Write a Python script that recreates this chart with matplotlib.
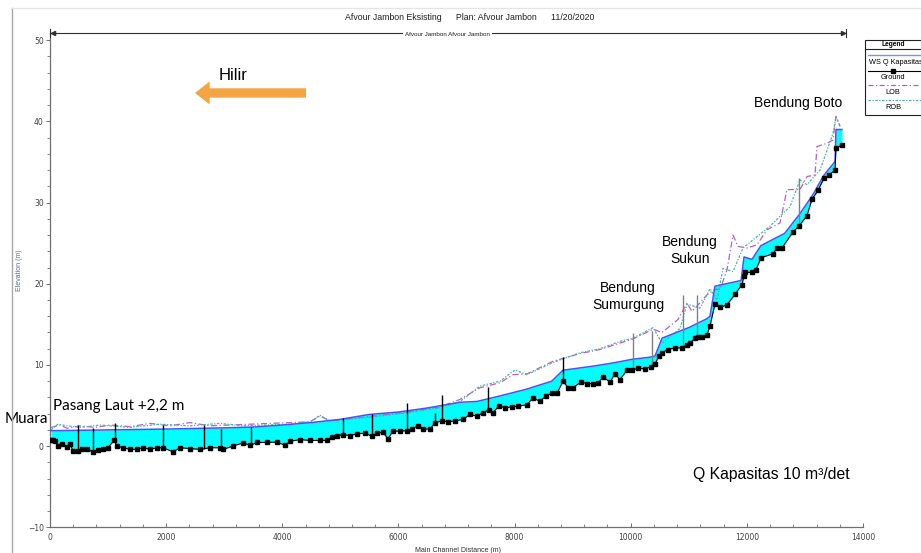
import numpy as np
import matplotlib
matplotlib.use("Agg")
import matplotlib.pyplot as plt
from matplotlib.ticker import MultipleLocator
from matplotlib.patches import Rectangle

# ---------------- data (distance in m, elevation in m) ----------------
ground_dist = [17, 52, 86, 138, 207, 293, 344, 396, 482, 551, 637, 740, 827, 913, 999, 1102, 1154,
               1257, 1378, 1498, 1601, 1722, 1843, 1946, 2118, 2239, 2411, 2583, 2755, 2927, 2979,
               3151, 3323, 3444, 3565, 3737, 3909, 4047, 4133, 4305, 4477, 4649, 4770, 4856, 4942,
               5045, 5166, 5287, 5424, 5545, 5631, 5734, 5820, 5906, 6027, 6148, 6234, 6337, 6423,
               6544, 6630, 6750, 6854, 6974, 7112, 7232, 7353, 7456, 7560, 7629, 7732, 7835, 7956,
               8059, 8214, 8317, 8438, 8541, 8644, 8731, 8834, 8920, 9006, 9144, 9247, 9350, 9436,
               9523, 9643, 9729, 9815, 9936, 10022, 10125, 10246, 10349, 10418, 10487, 10539, 10642,
               10762, 10883, 10969, 11021, 11107, 11159, 11227, 11314, 11365, 11451, 11537, 11658,
               11796, 11916, 11951, 11968, 12088, 12157, 12243, 12450, 12519, 12605, 12795, 12898,
               13035, 13122, 13225, 13328, 13414, 13518, 13535, 13638]
ground_elev = [0.7, 0.8, 0.6, 0.0, 0.2, -0.1, 0.3, -0.6, -0.6, -0.4, -0.4, -0.7, -0.5, -0.3, -0.2,
               0.7, 0.0, -0.2, -0.4, -0.4, -0.2, -0.4, -0.2, -0.2, -0.7, -0.2, -0.3, -0.4, -0.2,
               -0.2, -0.4, 0.0, 0.4, 0.1, 0.45, 0.45, 0.5, 0.1, 0.6, 0.8, 0.7, 0.7, 0.7, 1.1, 1.3,
               1.4, 1.3, 1.5, 1.6, 1.2, 1.6, 1.7, 0.9, 1.85, 1.85, 1.9, 2.1, 2.5, 2.1, 2.1, 2.9,
               3.1, 3.0, 3.1, 3.3, 3.9, 3.7, 4.1, 4.5, 4.1, 5.0, 4.7, 4.85, 4.9, 5.1, 5.95, 5.5,
               6.2, 6.5, 6.5, 8.0, 7.2, 7.2, 7.9, 7.7, 7.7, 7.75, 8.5, 7.9, 8.9, 8.2, 9.35, 9.35,
               9.6, 9.5, 9.8, 10.1, 11.1, 11.5, 11.9, 12.1, 12.1, 12.5, 12.7, 13.3, 13.5, 13.5,
               13.7, 14.8, 17.5, 17.1, 17.4, 18.7, 19.9, 21.0, 21.4, 21.4, 21.7, 23.2, 23.7, 24.4,
               24.4, 26.4, 27.1, 28.4, 30.4, 31.5, 33.0, 33.4, 34.0, 36.7, 37.1]

ws_dist = [17, 1000, 2000, 3000, 3500, 4000, 4500, 5000, 5500, 6000, 6500, 7060, 7350, 7730, 8200,
           8640, 8834, 9350, 9700, 10030, 10330, 10418, 10540, 11000, 11314, 11365, 11451, 11900,
           11951, 12088, 12243, 12650, 12900, 13122, 13330, 13518, 13535, 13638]
ws_elev = [1.9, 2.0, 2.1, 2.25, 2.35, 2.6, 2.9, 3.3, 3.9, 4.2, 4.7, 5.4, 5.5, 6.15, 7.0, 8.0, 9.35,
           9.85, 10.25, 10.7, 10.95, 11.1, 13.3, 14.6, 15.7, 16.0, 19.7, 20.4, 23.3, 23.0, 24.7,
           26.2, 28.5, 30.8, 33.4, 35.05, 39.0, 39.0]

lob_dist = [17, 172, 293, 517, 775, 1033, 1378, 1722, 2066, 2411, 2755, 3272, 3788, 4133, 4477,
            4649, 4822, 5562, 6148, 6716, 7060, 7405, 7749, 7973, 8214, 8662, 9127, 9471, 9815,
            10039, 10384, 10539, 10814, 10969, 11055, 11193, 11314, 11451, 11537, 11658, 11761,
            11847, 12002, 12175, 12347, 12571, 12691, 12915, 13035, 13173, 13207, 13379, 13483,
            13535, 13604]
lob_elev = [2.3, 2.6, 2.2, 2.5, 2.3, 2.6, 2.4, 2.8, 2.5, 2.9, 2.5, 2.65, 2.8, 2.9, 3.0, 3.7, 3.1,
            3.7, 4.2, 4.85, 5.75, 7.2, 7.8, 8.8, 8.9, 10.45, 11.4, 11.9, 12.7, 13.2, 14.4, 14.0,
            15.6, 17.6, 16.6, 17.65, 18.65, 19.3, 19.3, 21.7, 26.0, 24.6, 24.4, 24.8, 26.65, 27.5,
            31.6, 31.6, 33.2, 33.4, 36.9, 37.3, 37.7, 40.6, 39.4]

rob_dist = [17, 138, 293, 517, 861, 1378, 1894, 2411, 2927, 3323, 4133, 4477, 4649, 4822, 5562,
            6148, 6716, 7060, 7405, 7749, 8007, 8214, 8662, 9127, 9471, 9815, 10039, 10384, 10539,
            10849, 10969, 11193, 11365, 11486, 11589, 11761, 11933, 12398, 12743, 12915, 13035,
            13259, 13483, 13535, 13604]
rob_elev = [2.0, 2.7, 2.5, 2.3, 2.6, 2.3, 2.7, 2.5, 2.8, 2.5, 2.7, 3.0, 3.8, 3.1, 3.6, 4.1, 4.7,
            5.5, 7.4, 8.0, 9.4, 8.8, 10.3, 11.5, 12.0, 12.9, 13.3, 14.6, 12.7, 14.5, 17.5, 17.0,
            19.4, 18.0, 21.9, 21.5, 24.4, 27.1, 29.5, 32.8, 32.2, 34.0, 38.5, 40.6, 39.4]

struct_dist = [482, 740, 1119, 1946, 2652, 2945, 3461, 5045, 5545, 6148, 6630, 6750, 7542, 8834,
               10039, 10366, 10900, 11141, 12898]
struct_top = [2.65, 2.2, 2.8, 2.55, 2.65, 2.05, 2.4, 3.5, 4.0, 5.3, 4.1, 6.3, 7.3, 11.0, 13.95,
              14.15, 18.65, 18.65, 33.0]

x_ticks = [0, 2000, 4000, 6000, 8000, 10000, 12000, 14000]
y_ticks = [-10, 0, 10, 20, 30, 40, 50]

title_text = "Afvour Jambon Eksisting      Plan: Afvour Jambon      11/20/2020"
reach_text = "Afvour Jambon Afvour Jambon"
legend_labels = ["WS Q Kapasitas", "Ground", "LOB", "ROB"]

# ---------------- figure ----------------
C_WS = '#5050f2'
C_LOB = '#b063c4'
C_ROB = '#4fb3a3'
C_FILL = '#00ffff'

fig = plt.figure(figsize=(9.21, 5.53), dpi=100)
ax = fig.add_axes([50 / 921, (553 - 527.3) / 553, 813 / 921, 494.4 / 553])
ax.set_xlim(0, 14000)
ax.set_ylim(-10, 50.9)

gd = np.array(ground_dist, float)
ge = np.array(ground_elev, float)
wd = np.array(ws_dist, float)
we = np.array(ws_elev, float)
grid = np.union1d(gd, wd)
grid = grid[(grid >= gd.min()) & (grid <= gd.max())]
g_i = np.interp(grid, gd, ge)
w_i = np.interp(grid, wd, we)
ax.fill_between(grid, g_i, w_i, where=w_i >= g_i, interpolate=True, color=C_FILL, lw=0, zorder=1)

sd = np.array(struct_dist, float)
sb = np.interp(sd, gd, ge)
scol = ['black' if d < 9000 else '#808080' for d in sd]
ax.vlines(sd, sb, struct_top, colors=scol, lw=1.0, zorder=4)

ax.plot(lob_dist, lob_elev, color=C_LOB, lw=0.9, dashes=(5, 2, 1, 2), zorder=2)
ax.plot(rob_dist, rob_elev, color=C_ROB, lw=0.9, dashes=(2, 1.2, 1, 1.2), zorder=2)
ax.plot(ws_dist, ws_elev, color=C_WS, lw=1.1, zorder=3)
ax.plot(ground_dist, ground_elev, color='black', lw=0.8, marker='s', ms=2.7, zorder=5)

for s in ['top', 'right']:
    ax.spines[s].set_visible(False)
for s in ['left', 'bottom']:
    ax.spines[s].set_color('#707070')
    ax.spines[s].set_linewidth(0.9)
ax.patch.set_alpha(0)

ax.set_xticks(x_ticks)
ax.set_yticks(y_ticks)
ax.xaxis.set_minor_locator(MultipleLocator(400))
ax.yaxis.set_minor_locator(MultipleLocator(2))
ax.tick_params(axis='x', which='both', direction='in', colors='#707070', labelcolor='#404040',
               labelsize=5.5, pad=4)
ax.tick_params(axis='y', which='both', direction='out', colors='#707070', labelcolor='#404040',
               labelsize=5.5, pad=1.5)
ax.tick_params(which='major', length=3, width=0.7)
ax.tick_params(which='minor', length=2, width=0.6)

# annotations
ax.text(3151, 45.6, "Hilir", fontsize=12, ha='center', va='center', family='Liberation Sans')
ax.annotate('', xy=(2497, 43.5), xytext=(4408, 43.5),
            arrowprops=dict(arrowstyle='simple,head_length=0.7,head_width=1.1,tail_width=0.45',
                            mutation_scale=15, color='#f5a444', lw=0, shrinkA=0, shrinkB=0))
ax.text(12881, 42.3, "Bendung Boto", fontsize=10, ha='center', va='center', family='Liberation Sans')
ax.text(11021, 24.05, "Bendung\nSukun", fontsize=10, ha='center', va='center',
        family='Liberation Sans', linespacing=1.25)
ax.text(9953, 18.4, "Bendung\nSumurgung", fontsize=10, ha='center', va='center',
        family='Liberation Sans', linespacing=1.25)
ax.text(52, 4.9, "Pasang Laut +2,2 m", fontsize=11, ha='left', va='center', family='Lato')
ax.text(-775, 3.3, "Muara", fontsize=11, ha='left', va='center', family='Lato', clip_on=False)
ax.text(11073, -3.5, "Q Kapasitas 10 m³/det", fontsize=11.3, ha='left', va='center',
        family='Liberation Sans')

# ---------------- overlay (pixel coordinates) ----------------
ov = fig.add_axes([0, 0, 1, 1], zorder=10)
ov.set_xlim(0, 921)
ov.set_ylim(553, 0)
ov.axis('off')
ov.patch.set_alpha(0)

ov.plot([12, 12], [8, 553], color='#a8a8a8', lw=1.0)
ov.plot([12, 921], [8, 8], color='#e4e4e4', lw=0.8)

ov.text(470, 17, title_text, ha='center', va='center', fontsize=6.3, color='#202020',
        family='Liberation Sans')
ov.plot([50, 846], [33, 33], color='#303030', lw=0.8)
ov.plot([50, 50], [29, 37], color='#303030', lw=0.8)
ov.plot([846, 846], [29, 37], color='#303030', lw=0.8)
ov.plot([53], [33], marker='<', color='#303030', ms=3)
ov.plot([843], [33], marker='>', color='#303030', ms=3)
ov.text(447, 34, reach_text, ha='center', va='center', fontsize=4.5, color='#202020',
        family='Liberation Sans',
        bbox=dict(facecolor='white', edgecolor='none', pad=1.5))

ov.text(19, 270, "Elevation (m)", rotation=90, ha='center', va='center', fontsize=5,
        color='#5a6a9a', family='Liberation Sans')
ov.text(458, 551, "Main Channel Distance (m)", ha='center', va='center', fontsize=5,
        color='#303030', family='Liberation Sans')

# legend box
ov.add_patch(Rectangle((865, 40), 70, 75, facecolor='white', edgecolor='#202020', lw=0.8))
ov.plot([865, 921], [49, 49], color='#202020', lw=0.8)
ov.text(893, 44.5, "Legend", ha='center', va='center', fontsize=4.8, weight='bold',
        family='Liberation Sans')
ov.plot([868, 921], [55, 55], color='#8a8af5', lw=1.0)
ov.text(869, 63, legend_labels[0], ha='left', va='center', fontsize=5.3, family='Liberation Sans')
ov.plot([868, 921], [71, 71], color='black', lw=0.8)
ov.plot([893], [71], marker='s', color='black', ms=2.5)
ov.text(893, 77.5, legend_labels[1], ha='center', va='center', fontsize=5.3, family='Liberation Sans')
ov.plot([868, 921], [84.5, 84.5], color=C_LOB, lw=0.9, dashes=(4, 2, 1, 2))
ov.text(893, 92, legend_labels[2], ha='center', va='center', fontsize=5.3, family='Liberation Sans')
ov.plot([868, 921], [100, 100], color=C_ROB, lw=0.9, dashes=(2, 1.2, 1, 1.2))
ov.text(893, 107.5, legend_labels[3], ha='center', va='center', fontsize=5.3, family='Liberation Sans')

fig.savefig("out.png", dpi=100)
